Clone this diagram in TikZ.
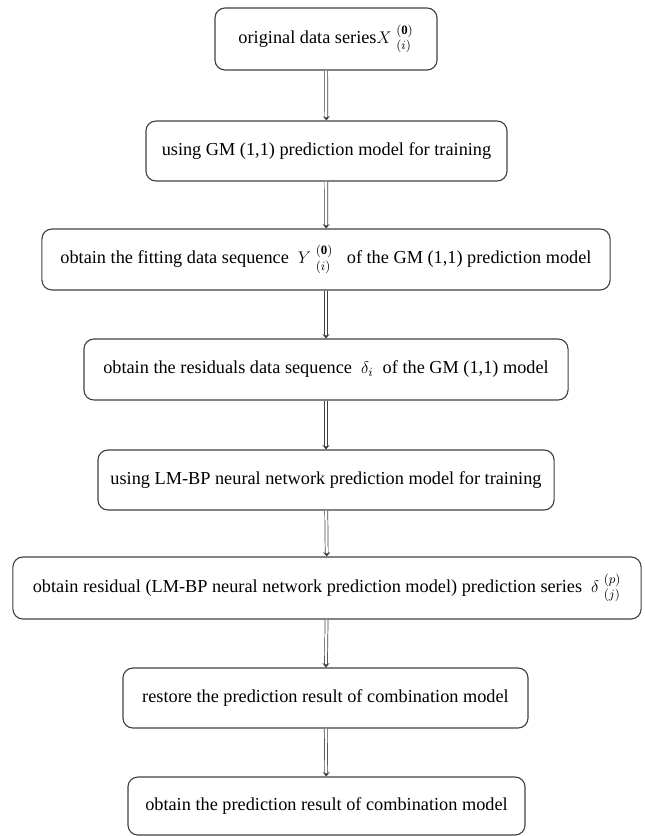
\documentclass[tikz,border=0pt]{standalone}
\usepackage{amsmath}
\usepackage{fontspec}
\setmainfont{Liberation Serif}
\usetikzlibrary{arrows.meta}

\tikzset{
  flowbox/.style={draw=black!75, line width=0.8pt, rounded corners=0.25cm, inner sep=0pt, align=center, font=\fontsize{13}{15}\selectfont},
  dbarrow/.style={draw=black!75, double=white, double distance=1.6pt, line width=0.5pt, -{Stealth[length=3pt, width=5pt]}}
}

\begin{document}
\begin{tikzpicture}[x=0.025cm, y=-0.025cm]
    \useasboundingbox (0,0) rectangle (645,836);

    % Steps
    \node[flowbox, minimum width=5.55cm, minimum height=1.55cm] (orig) at (326, 39) {original data series$X\;{}^{(\mathbf{0})}_{(i)}$};
    \node[flowbox, minimum width=9.025cm, minimum height=1.5cm] (gmtrain) at (326.5, 151) {using GM (1,1) prediction model for training};
    \node[flowbox, minimum width=14.2cm, minimum height=1.525cm] (fit) at (326, 259.5) {obtain the fitting data sequence \ $Y\;{}^{(\mathbf{0})}_{(i)}$ \ \ of the GM (1,1) prediction model};
    \node[flowbox, minimum width=12.1cm, minimum height=1.525cm] (resid) at (326, 369.5) {obtain the residuals data sequence \ $\delta_i$ \ of the GM (1,1) model};
    \node[flowbox, minimum width=11.4cm, minimum height=1.5cm] (bptrain) at (326, 480) {using LM-BP neural network prediction model for training};
    \node[flowbox, minimum width=15.7cm, minimum height=1.55cm] (bppred) at (327, 588) {obtain residual (LM-BP neural network prediction model) prediction series \ $\delta\;{}^{(p)}_{(j)}$};
    \node[flowbox, minimum width=10.125cm, minimum height=1.5cm] (restore) at (325.5, 698) {restore the prediction result of combination model};
    \node[flowbox, minimum width=9.925cm, minimum height=1.45cm] (result) at (326.5, 806) {obtain the prediction result of combination model};

    % Arrows
    \draw[dbarrow] (orig) -- (gmtrain);
    \draw[dbarrow] (gmtrain) -- (fit);
    \draw[dbarrow] (fit) -- (resid);
    \draw[dbarrow] (resid) -- (bptrain);
    \draw[dbarrow] (bptrain) -- (bppred);
    \draw[dbarrow] (bppred) -- (restore);
    \draw[dbarrow] (restore) -- (result);
\end{tikzpicture}
\end{document}
